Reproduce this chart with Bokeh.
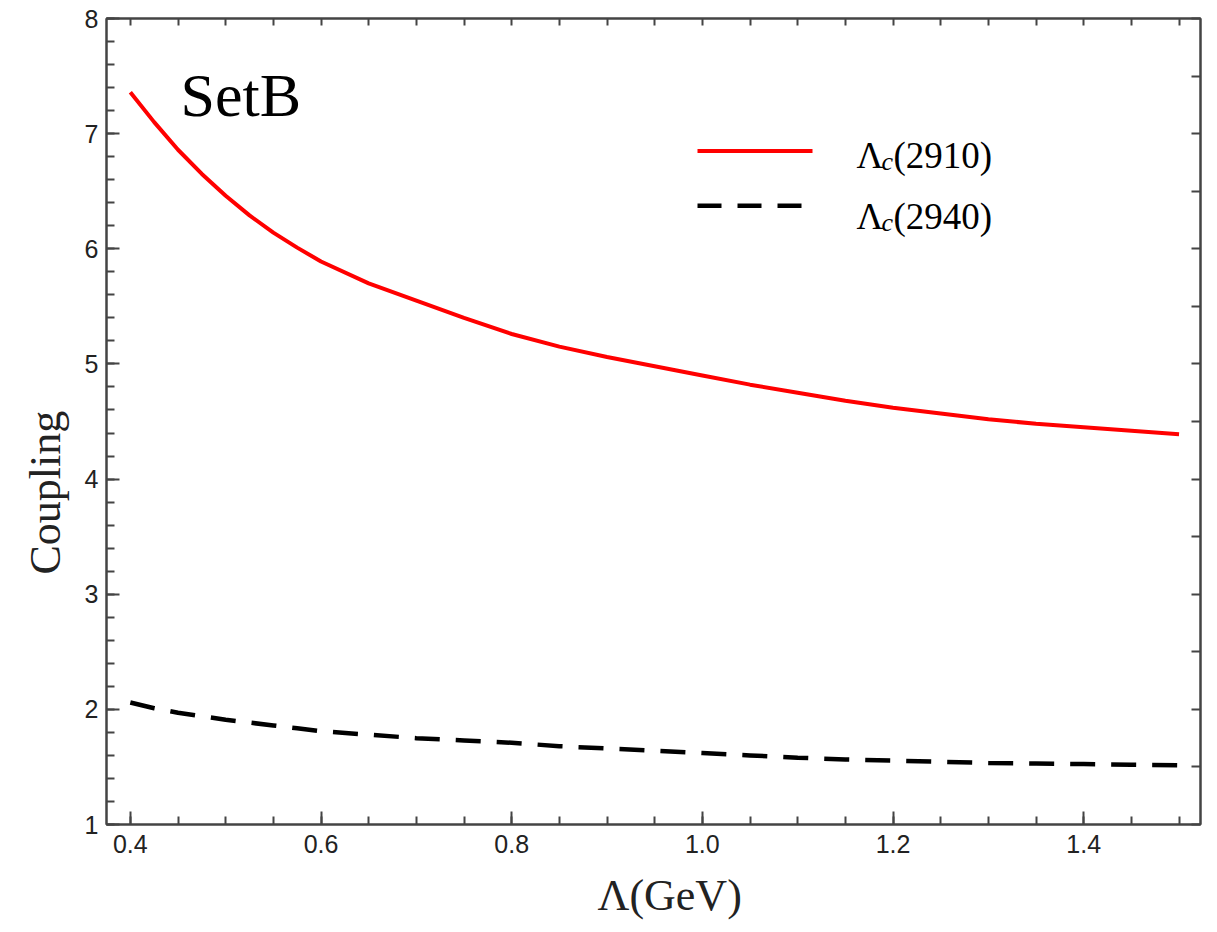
import numpy as np
from bokeh.plotting import figure
from bokeh.models import (Range1d, FixedTicker, LinearAxis, Label, Title,
                          PrintfTickFormatter, CustomJSTickFormatter)
from bokeh.embed import file_html
from bokeh.resources import INLINE

# ---------------- data ----------------
lam = [0.400, 0.425, 0.450, 0.475, 0.500, 0.525, 0.550, 0.575, 0.600, 0.65, 0.70,
       0.75, 0.80, 0.85, 0.90, 0.95, 1.00, 1.05, 1.10, 1.15, 1.20, 1.25, 1.30,
       1.35, 1.40, 1.45, 1.50]
g_2910 = [7.36, 7.10, 6.86, 6.65, 6.46, 6.29, 6.14, 6.01, 5.89, 5.70, 5.55,
          5.40, 5.26, 5.15, 5.06, 4.98, 4.90, 4.82, 4.75, 4.68, 4.62, 4.57, 4.52,
          4.48, 4.45, 4.42, 4.39]
g_2940 = [2.06, 2.01, 1.97, 1.94, 1.91, 1.885, 1.86, 1.835, 1.81, 1.78, 1.75,
          1.73, 1.71, 1.68, 1.66, 1.64, 1.62, 1.60, 1.58, 1.565, 1.555, 1.545, 1.535,
          1.53, 1.525, 1.52, 1.515]

x_ticks = [0.4, 0.6, 0.8, 1.0, 1.2, 1.4]
y_ticks = [1, 2, 3, 4, 5, 6, 7, 8]
set_label = "SetB"
x_title = "Λ(GeV)"
y_title = "Coupling"
series_names = ["(2910)", "(2940)"]

# ---------------- layout ----------------
W, H = 1217, 932
FL, FR, FT, FB = 106, 1200, 18, 827
x_lo, x_hi = 0.375, 1.5225
y_lo, y_hi = 1.0, 8.0


def dx(px):
    return x_lo + (px - FL) / (FR - FL) * (x_hi - x_lo)


def dy(py):
    return y_lo + (FB - py) / (FB - FT) * (y_hi - y_lo)


SERIF = "Liberation Serif"
SANS = "Liberation Sans"
FRAME = "#444444"
TICKLBL = "#222222"

p = figure(width=W, height=H, x_range=Range1d(x_lo, x_hi), y_range=Range1d(y_lo, y_hi),
           output_backend="svg", toolbar_location=None,
           min_border_left=FL, min_border_right=W - FR,
           min_border_top=FT, min_border_bottom=H - FB)
p.grid.visible = False
p.outline_line_color = FRAME
p.outline_line_width = 2
p.background_fill_color = "white"
p.border_fill_color = "white"

x_minor = [round(v, 3) for v in np.arange(0.40, 1.5001, 0.05)]
y_minor = [round(v, 3) for v in np.arange(1.0, 8.0001, 0.2)]

xa = p.xaxis[0]
xa.ticker = FixedTicker(ticks=x_ticks, minor_ticks=x_minor)
xa.formatter = PrintfTickFormatter(format="%.1f")
ya = p.yaxis[0]
ya.ticker = FixedTicker(ticks=y_ticks, minor_ticks=y_minor)
ya.formatter = PrintfTickFormatter(format="%d")
for ax in (xa, ya):
    ax.major_tick_in = 13
    ax.major_tick_out = 0
    ax.minor_tick_in = 8
    ax.minor_tick_out = 0
    ax.major_tick_line_color = FRAME
    ax.minor_tick_line_color = FRAME
    ax.major_tick_line_width = 2
    ax.minor_tick_line_width = 2
    ax.axis_line_color = FRAME
    ax.axis_line_width = 2
    ax.major_label_text_font = SANS
    ax.major_label_text_font_size = "25px"
    ax.major_label_text_color = TICKLBL
xa.major_label_standoff = 10
ya.major_label_standoff = 8

blank = CustomJSTickFormatter(code="return ''")
top_ticks = [round(v, 3) for v in np.arange(0.40, 1.5001, 0.05)]
right_ticks = [round(v, 3) for v in np.arange(1.0, 8.0001, 0.5)]
top = LinearAxis(ticker=FixedTicker(ticks=top_ticks), formatter=blank,
                 major_tick_in=7, major_tick_out=0, minor_tick_in=0, minor_tick_out=0,
                 major_tick_line_color=FRAME, major_tick_line_width=2,
                 axis_line_color=FRAME, axis_line_width=2,
                 major_label_text_font_size="1px", major_label_standoff=0)
right = LinearAxis(ticker=FixedTicker(ticks=right_ticks), formatter=blank,
                   major_tick_in=9, major_tick_out=0, minor_tick_in=0, minor_tick_out=0,
                   major_tick_line_color=FRAME, major_tick_line_width=2,
                   axis_line_color=FRAME, axis_line_width=2,
                   major_label_text_font_size="1px", major_label_standoff=0)
p.add_layout(top, "above")
p.add_layout(right, "right")

# ---------------- axis titles (as side titles so they can be offset) ----------------
xt = Title(text=x_title, align="left", offset=491, text_font=SERIF,
           text_font_size="44px", text_font_style="normal", text_color="#222222",
           standoff=26)
p.add_layout(xt, "below")
yt = Title(text=y_title, align="left", offset=250, text_font=SERIF,
           text_font_size="44px", text_font_style="normal", text_color="#222222",
           standoff=24)
p.add_layout(yt, "left")

# ---------------- curves ----------------
p.line(lam, g_2910, line_color="#ff0000", line_width=4)
p.line(lam, g_2940, line_color="black", line_width=4.5, line_dash="25 16")

# ---------------- legend (drawn by hand for the subscript) ----------------
p.line([dx(697), dx(812)], [dy(151), dy(151)], line_color="#ff0000", line_width=4)
p.line([dx(697), dx(802)], [dy(206), dy(206)], line_color="black", line_width=4.5,
       line_dash="24 16")
for name, base in zip(series_names, (156, 217)):
    p.add_layout(Label(x=dx(856), y=dy(base), text="Λ", text_font=SERIF,
                       text_font_size="37px", text_baseline="alphabetic",
                       text_align="left", text_color="black"))
    p.add_layout(Label(x=dx(856), y=dy(base), x_offset=25, y_offset=-6, text="c",
                       text_font=SERIF, text_font_style="italic",
                       text_font_size="26px", text_baseline="alphabetic",
                       text_align="left", text_color="black"))
    p.add_layout(Label(x=dx(856), y=dy(base), x_offset=37, text=name, text_font=SERIF,
                       text_font_size="37px", text_baseline="alphabetic",
                       text_align="left", text_color="black"))

# ---------------- panel label ----------------
p.add_layout(Label(x=dx(180), y=dy(95), text=set_label, text_font=SERIF,
                   text_font_size="62px", text_baseline="alphabetic",
                   text_align="left", text_color="black"))

open("out.html", "w").write(file_html(p, INLINE))
